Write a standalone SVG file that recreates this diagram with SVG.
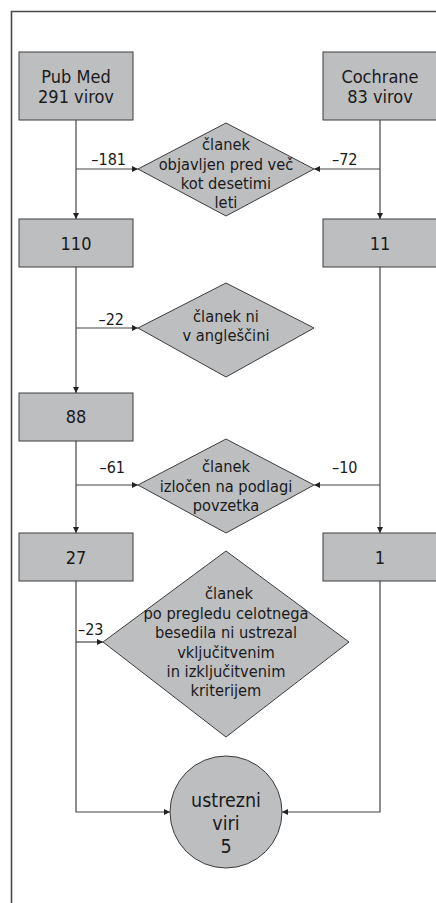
<svg xmlns="http://www.w3.org/2000/svg" width="436" height="903" viewBox="0 0 436 903">
<style>
.frame{fill:none;stroke:#4a4a4a;stroke-width:1.6}
.shape{fill:#bdbec0;stroke:#3c3c3c;stroke-width:1}
.c{fill:none;stroke:#444;stroke-width:1.2}
text{font-family:"DejaVu Sans Condensed","DejaVu Sans","Liberation Sans",sans-serif;fill:#1a1a1a}
.bt{font-size:18px;text-anchor:middle}
.dt{font-size:16.3px;text-anchor:middle}
.ct{font-size:19.5px;text-anchor:middle}
.lb{font-size:16px}
</style>
<defs>
<marker id="ah" viewBox="0 0 8 8" refX="8" refY="4" markerWidth="6" markerHeight="6" markerUnits="userSpaceOnUse" orient="auto">
<path d="M0,0 L8,4 L0,8 Z" fill="#222"/>
</marker>
</defs>
<rect width="436" height="903" fill="#fff"/>
<path class="frame" d="M11.5,903 V11.5 H436"/>

<g id="connectors">
<path class="c" d="M76,120 V219" marker-end="url(#ah)"/>
<path class="c" d="M76,169 H138" marker-end="url(#ah)"/>
<path class="c" d="M380,120 V219" marker-end="url(#ah)"/>
<path class="c" d="M380,169 H314" marker-end="url(#ah)"/>
<path class="c" d="M76,267 V393" marker-end="url(#ah)"/>
<path class="c" d="M76,328 H138" marker-end="url(#ah)"/>
<path class="c" d="M76,441 V533" marker-end="url(#ah)"/>
<path class="c" d="M76,485 H138" marker-end="url(#ah)"/>
<path class="c" d="M380,267 V533" marker-end="url(#ah)"/>
<path class="c" d="M380,485 H314" marker-end="url(#ah)"/>
<path class="c" d="M76,581 V812 H170" marker-end="url(#ah)"/>
<path class="c" d="M76,642 H103" marker-end="url(#ah)"/>
<path class="c" d="M380,581 V812 H282" marker-end="url(#ah)"/>
<text class="lb" x="126" y="165" text-anchor="end">–181</text>
<text class="lb" x="332" y="165">–72</text>
<text class="lb" x="124" y="325" text-anchor="end">–22</text>
<text class="lb" x="125" y="473" text-anchor="end">–61</text>
<text class="lb" x="332" y="473">–10</text>
<text class="lb" x="78" y="635">–23</text>
</g>

<g id="pubmed">
<rect class="shape" x="19" y="52" width="114" height="68"/>
<text class="bt" x="76" y="83">Pub Med</text>
<text class="bt" x="76" y="103">291 virov</text>
</g>
<g id="cochrane">
<rect class="shape" x="323" y="52" width="114" height="68"/>
<text class="bt" x="380" y="83">Cochrane</text>
<text class="bt" x="380" y="103">83 virov</text>
</g>
<g id="d1">
<polygon class="shape" points="138,169 226,123 314,169 226,216"/>
<text class="dt" x="226" y="150">članek</text>
<text class="dt" x="226" y="169.5">objavljen pred več</text>
<text class="dt" x="226" y="188.5">kot desetimi</text>
<text class="dt" x="226" y="208">leti</text>
</g>
<g id="n110">
<rect class="shape" x="19" y="219" width="114" height="48"/>
<text class="bt" x="76" y="250">110</text>
</g>
<g id="n11">
<rect class="shape" x="323" y="219" width="114" height="48"/>
<text class="bt" x="380" y="250">11</text>
</g>
<g id="d2">
<polygon class="shape" points="138,328 226,283 314,328 226,377"/>
<text class="dt" x="226" y="322">članek ni</text>
<text class="dt" x="226" y="341">v angleščini</text>
</g>
<g id="n88">
<rect class="shape" x="19" y="393" width="114" height="48"/>
<text class="bt" x="76" y="423">88</text>
</g>
<g id="d3">
<polygon class="shape" points="138,485 226,439 314,485 226,533"/>
<text class="dt" x="226" y="472">članek</text>
<text class="dt" x="226" y="492">izločen na podlagi</text>
<text class="dt" x="226" y="511">povzetka</text>
</g>
<g id="n27">
<rect class="shape" x="19" y="533" width="114" height="48"/>
<text class="bt" x="76" y="564">27</text>
</g>
<g id="n1">
<rect class="shape" x="323" y="533" width="114" height="48"/>
<text class="bt" x="380" y="564">1</text>
</g>
<g id="d4">
<polygon class="shape" points="103,642 226,551 349,642 226,737"/>
<text class="dt" x="229" y="599">članek</text>
<text class="dt" x="226" y="618.5">po pregledu celotnega</text>
<text class="dt" x="226" y="638">besedila ni ustrezal</text>
<text class="dt" x="226" y="657.5">vključitvenim</text>
<text class="dt" x="226" y="677">in izključitvenim</text>
<text class="dt" x="226" y="696">kriterijem</text>
</g>
<g id="result">
<circle class="shape" cx="226" cy="812" r="56"/>
<text class="ct" x="226" y="807">ustrezni</text>
<text class="ct" x="226" y="830">viri</text>
<text class="ct" x="226" y="853">5</text>
</g>
</svg>
